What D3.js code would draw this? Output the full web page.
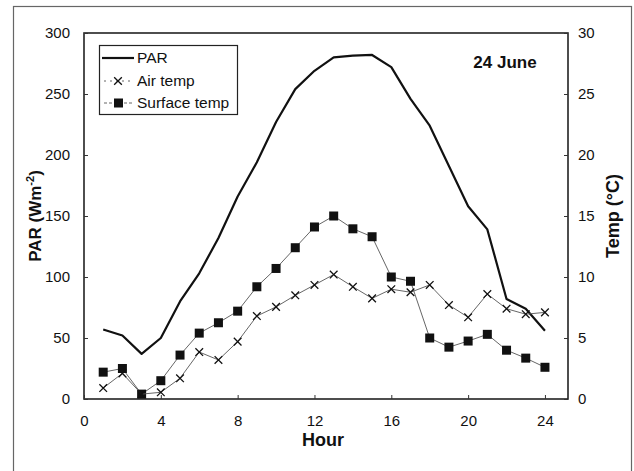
<!DOCTYPE html>
<html>
<head>
<meta charset="utf-8">
<script src="https://cdn.jsdelivr.net/npm/d3@7"></script>
<style>
  body { margin: 0; background: #fff; }
  text { font-family: Arial, "Liberation Sans", sans-serif; fill: #111; }
</style>
</head>
<body>
<div id="chart"></div>
<script>
// Data
const hours = [1,2,3,4,5,6,7,8,9,10,11,12,13,14,15,16,17,18,19,20,21,22,23,24];
const par = [57,52,37,50,80,103,132,166,194,227,254,269,280,281.5,282,272,246,224,191,158,139,82,74,56];
const airTemp = [0.9,2.1,0.4,0.55,1.7,3.85,3.2,4.7,6.8,7.55,8.5,9.35,10.2,9.2,8.25,9.0,8.75,9.35,7.7,6.7,8.6,7.4,6.95,7.1];
const surfaceTemp = [2.2,2.5,0.4,1.5,3.6,5.4,6.25,7.2,9.2,10.7,12.4,14.1,15.0,13.95,13.3,10.0,9.65,5.0,4.25,4.75,5.3,4.0,3.35,2.6];
const xTicks = [0,4,8,12,16,20,24];
const parTicks = [0,50,100,150,200,250,300];
const tempTicks = [0,5,10,15,20,25,30];

const width = 634, height = 471;
const margin = {top: 34, right: 66, bottom: 73, left: 84};

const svg = d3.select("#chart").append("svg")
    .attr("width", width)
    .attr("height", height);

// Outer frame around the figure
svg.append("rect")
    .attr("x", 13.5).attr("y", 6.5)
    .attr("width", 618).attr("height", 480)
    .attr("fill", "none")
    .attr("stroke", "#666")
    .attr("stroke-width", 1.2);

const x = d3.scaleLinear().domain([0, 25.2]).range([margin.left, width - margin.right]);
const yPar = d3.scaleLinear().domain([0, 300]).range([height - margin.bottom + 1, margin.top - 1]);
const yTemp = d3.scaleLinear().domain([0, 30]).range([height - margin.bottom + 1, margin.top - 1]);

// Plot box
svg.append("rect")
    .attr("x", x(0)).attr("y", yPar(300))
    .attr("width", x(25.2) - x(0)).attr("height", yPar(0) - yPar(300))
    .attr("fill", "none")
    .attr("stroke", "#222")
    .attr("stroke-width", 1.6);

// Axes with inward ticks
const xAxis = svg.append("g")
    .attr("transform", `translate(0,${yPar(0)})`)
    .call(d3.axisBottom(x).tickValues(xTicks).tickSizeInner(-4).tickSizeOuter(0).tickPadding(16));
const leftAxis = svg.append("g")
    .attr("transform", `translate(${x(0)},0)`)
    .call(d3.axisLeft(yPar).tickValues(parTicks).tickSizeInner(-4).tickSizeOuter(0).tickPadding(14));
const rightAxis = svg.append("g")
    .attr("transform", `translate(${x(25.2)},0)`)
    .call(d3.axisRight(yTemp).tickValues(tempTicks).tickSizeInner(-4).tickSizeOuter(0).tickPadding(10));

[xAxis, leftAxis, rightAxis].forEach(g => {
    g.select(".domain").remove();
    g.selectAll("line").attr("stroke", "#333");
    g.selectAll("text")
        .style("font-family", "Arial, 'Liberation Sans', sans-serif")
        .style("font-size", "15px")
        .attr("fill", "#111");
});

// PAR line
svg.append("path")
    .datum(hours)
    .attr("fill", "none")
    .attr("stroke", "#111")
    .attr("stroke-width", 2.2)
    .attr("stroke-linejoin", "round")
    .attr("d", d3.line().x(h => x(h)).y((h, i) => yPar(par[i])));

// Surface temp line + squares
svg.append("path")
    .datum(hours)
    .attr("fill", "none")
    .attr("stroke", "#555")
    .attr("stroke-width", 0.9)
    .attr("d", d3.line().x(h => x(h)).y((h, i) => yTemp(surfaceTemp[i])));

svg.append("g").selectAll("rect")
    .data(hours)
    .join("rect")
    .attr("x", h => x(h) - 4.5)
    .attr("y", (h, i) => yTemp(surfaceTemp[i]) - 4.5)
    .attr("width", 9).attr("height", 9)
    .attr("fill", "#111");

// Air temp line + crosses
svg.append("path")
    .datum(hours)
    .attr("fill", "none")
    .attr("stroke", "#555")
    .attr("stroke-width", 0.9)
    .attr("d", d3.line().x(h => x(h)).y((h, i) => yTemp(airTemp[i])));

const cross = d3.symbol().type(d3.symbolX).size(40);
svg.append("g").selectAll("path")
    .data(hours)
    .join("path")
    .attr("transform", (h, i) => `translate(${x(h)},${yTemp(airTemp[i])})`)
    .attr("d", cross)
    .attr("fill", "none")
    .attr("stroke", "#111")
    .attr("stroke-width", 1.3);

// Axis titles
svg.append("text")
    .attr("transform", `translate(41,${(yPar(0) + yPar(300)) / 2}) rotate(-90)`)
    .attr("text-anchor", "middle")
    .style("font-size", "17px")
    .style("font-weight", "bold")
    .html('PAR (Wm<tspan dy="-7" font-size="11px">-2</tspan><tspan dy="7">)</tspan>');

svg.append("text")
    .attr("transform", `translate(619,${(yPar(0) + yPar(300)) / 2}) rotate(-90)`)
    .attr("text-anchor", "middle")
    .style("font-size", "18px")
    .style("font-weight", "bold")
    .text("Temp (°C)");

svg.append("text")
    .attr("x", 323).attr("y", 446)
    .attr("text-anchor", "middle")
    .style("font-size", "18px")
    .style("font-weight", "bold")
    .text("Hour");

svg.append("text")
    .attr("x", 505).attr("y", 68)
    .attr("text-anchor", "middle")
    .style("font-size", "17px")
    .style("font-weight", "bold")
    .text("24 June");

// Legend
const legend = svg.append("g");
legend.append("rect")
    .attr("x", 99.5).attr("y", 45.5)
    .attr("width", 138).attr("height", 69)
    .attr("fill", "#fff")
    .attr("stroke", "#222")
    .attr("stroke-width", 1.2);

const items = [
    {label: "PAR", kind: "par", y: 58},
    {label: "Air temp", kind: "air", y: 81},
    {label: "Surface temp", kind: "surf", y: 103}
];
items.forEach(it => {
    if (it.kind === "par") {
        legend.append("line")
            .attr("x1", 102).attr("x2", 134).attr("y1", it.y).attr("y2", it.y)
            .attr("stroke", "#111").attr("stroke-width", 2.2);
    } else {
        legend.append("line")
            .attr("x1", 104).attr("x2", 134).attr("y1", it.y).attr("y2", it.y)
            .attr("stroke", "#555").attr("stroke-width", 0.9)
            .attr("stroke-dasharray", it.kind === "air" ? "2,4" : "3,2");
        if (it.kind === "air") {
            legend.append("path")
                .attr("transform", `translate(118,${it.y})`)
                .attr("d", cross)
                .attr("fill", "none").attr("stroke", "#111").attr("stroke-width", 1.3);
        } else {
            legend.append("rect")
                .attr("x", 114).attr("y", it.y - 4.5)
                .attr("width", 9).attr("height", 9)
                .attr("fill", "#111");
        }
    }
    legend.append("text")
        .attr("x", 137).attr("y", it.y + 5)
        .style("font-size", "15.5px")
        .text(it.label);
});
</script>
</body>
</html>
